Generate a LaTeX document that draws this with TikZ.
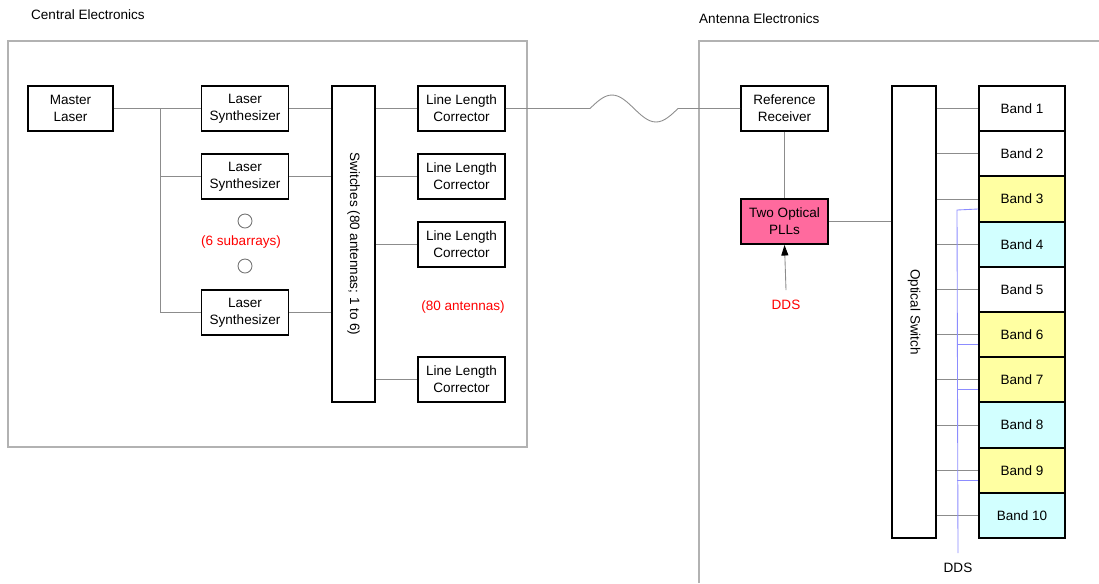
\documentclass[tikz,border=0pt]{standalone}
\usepackage{fontspec}
\setmainfont{Liberation Sans}
\usepackage{tikz}
\usetikzlibrary{positioning, calc, arrows.meta}
\definecolor{pllpink}{HTML}{FF6A9E}
\definecolor{bandyellow}{HTML}{FFFFA2}
\definecolor{bandcyan}{HTML}{D2FFFF}
\definecolor{ddsblue}{HTML}{8C8CFF}
\tikzset{
	unitbox/.style={draw, line width=1.1pt, fill=white, minimum width=1.74cm, minimum height=0.9cm,
			inner sep=1pt, align=center, font=\fontsize{7.7}{9.6}\selectfont}
}
\tikzset{
	tallbox/.style={draw, line width=1.1pt, fill=white, inner sep=0pt,
			font=\fontsize{7.7}{9.6}\selectfont}
}
\tikzset{
	wire/.style={draw=black!45, line width=0.5pt}
}
\tikzset{
	frame/.style={draw=black!30, line width=0.6pt}
}
\tikzset{
	redtext/.style={font=\fontsize{7.7}{9.6}\selectfont\color{red}}
}

\begin{document}
\begin{tikzpicture}[x=0.02cm, y=-0.02cm]

			\useasboundingbox (0,0) rectangle (1099,583);

			% frames
			\begin{scope}
				\draw[frame] (8,41) rectangle (527,447);
				\draw[frame] (699,583) -- (699,41) -- (1099,41);
				\node[anchor=west, font=\fontsize{7.7}{9.6}\selectfont] (central) at (25,15) {Central Electronics};
				\node[anchor=west, font=\fontsize{7.7}{9.6}\selectfont] (antenna) at (693,19) {Antenna Electronics};
			\end{scope}

			% central electronics
			\begin{scope}
				\node[unitbox, minimum width=1.7cm] (master) at (70.5,108.5) {Master\\Laser};
				\node[unitbox] (syn1) at (245,108.5) {Laser\\Synthesizer};
				\node[unitbox] (syn2) at (245,176.5) {Laser\\Synthesizer};
				\node[unitbox] (syn3) at (245,312.5) {Laser\\Synthesizer};

				\node[tallbox, minimum width=6.32cm, minimum height=0.86cm, rotate=-90] (switches) at (353.5,244) {Switches (80 antennas; 1 to 6)};

				\node[unitbox] (llc1) at (461.5,108.5) {Line Length\\Corrector};
				\node[unitbox] (llc2) at (461.5,176.5) {Line Length\\Corrector};
				\node[unitbox] (llc3) at (461.5,244.5) {Line Length\\Corrector};
				\node[unitbox] (llc4) at (461.5,379.5) {Line Length\\Corrector};

				\node[circle, draw=black!55, line width=0.5pt, minimum size=0.28cm, inner sep=0pt] (dot1) at (245,221) {};
				\node[circle, draw=black!55, line width=0.5pt, minimum size=0.28cm, inner sep=0pt] (dot2) at (245,266) {};
				\node[redtext] (subarrays) at (241,242) {(6 subarrays)};
				\node[redtext] (antennas) at (463,307) {(80 antennas)};

				\coordinate (bus) at (160,108.5);
			\end{scope}

			\draw[wire] (master) -- (syn1);
			\draw[wire] (bus) |- (syn2.west);
			\draw[wire] (bus) |- (syn3.west);
			\foreach \s in {syn1,syn2,syn3}
				\draw[wire] (\s.east) -- (\s.east -| switches.south);
			\foreach \l in {llc1,llc2,llc3,llc4}
				\draw[wire] (\l.west -| switches.north) -- (\l.west);

			% fibre to the antenna
			\coordinate (waveA) at (590,108.5);
			\coordinate (waveB) at (678,108.5);

			% antenna electronics
			\begin{scope}
				\node[unitbox] (refrx) at (784.5,108.5) {Reference\\Receiver};
				\node[unitbox, fill=pllpink] (plls) at (784.5,221.5) {Two Optical\\PLLs};
				\node[redtext] (dds1) at (786,305) {DDS};

				\node[tallbox, minimum width=9.04cm, minimum height=0.88cm, rotate=-90] (optsw) at (914,312) {Optical Switch};

				\foreach \i/\c in {1/white,2/white,3/bandyellow,4/bandcyan,5/white,
						6/bandyellow,7/bandyellow,8/bandcyan,9/bandyellow,10/bandcyan}
					\node[unitbox, fill=\c, minimum width=1.72cm, minimum height=0.904cm] (band\i) at (1022,{86+45.2*(\i-0.5)}) {Band \i};

				\node[font=\fontsize{7.7}{9.6}\selectfont] (dds2) at (958,568) {DDS};
				\coordinate (ddsbus) at (957,210);
			\end{scope}

			\draw[wire] (llc1.east) -- (waveA) sin (612,95) cos (634,108.5) sin (656,122) cos (waveB) -- (refrx.west);
			\draw[wire] (refrx) -- (plls);
			\draw[wire, -{Triangle[length=6pt, width=4pt, color=black]}] ($(dds1.north)+(0,-4)$) -- (plls.south);
			\draw[wire] (plls.east) -- (plls.east -| optsw.south);
			\foreach \i in {1,...,10}
				\draw[wire] (band\i.west -| optsw.north) -- (band\i.west);

			\draw[ddsblue, line width=0.5pt] ($(dds2.north)+(0,-4)$) -- (ddsbus) -- ([yshift=-0.2cm]band3.west);
			\foreach \i in {6,7,9}
				\draw[ddsblue, line width=0.5pt] ([yshift=-0.2cm]band\i.west -| ddsbus) -- ([yshift=-0.2cm]band\i.west);

		\end{tikzpicture}
\end{document}
